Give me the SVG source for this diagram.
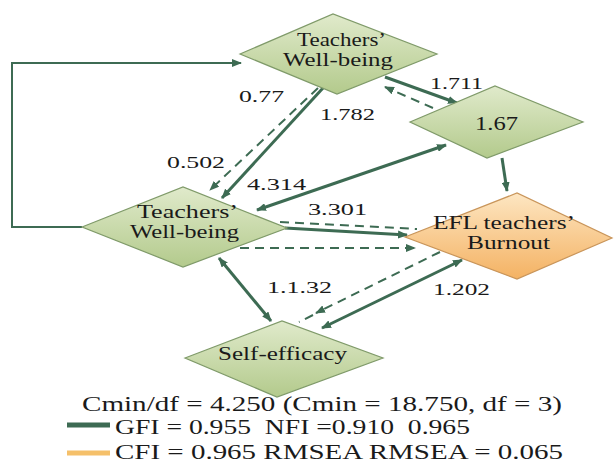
<svg xmlns="http://www.w3.org/2000/svg" width="616" height="466" viewBox="0 0 616 466">
<defs>
<linearGradient id="gG" x1="0" y1="0" x2="0" y2="1">
<stop offset="0" stop-color="#e0eacb"/><stop offset="1" stop-color="#b3ca8c"/>
</linearGradient>
<linearGradient id="gO" x1="0" y1="0" x2="0" y2="1">
<stop offset="0" stop-color="#fde6c2"/><stop offset="1" stop-color="#f4b263"/>
</linearGradient>
<marker id="ah" viewBox="0 0 10 8" refX="9" refY="4" markerWidth="10" markerHeight="8" markerUnits="userSpaceOnUse" orient="auto-start-reverse">
<path d="M0,0 L10,4 L0,8 z" fill="#3d6b53"/>
</marker>
<style>
.g{fill:url(#gG);stroke:#7f9a69;stroke-width:1.2}
.o{fill:url(#gO);stroke:#c9955a;stroke-width:1.2}
text{font-family:"Liberation Serif","DejaVu Serif",serif;fill:#1a1a1a}
.t{font-size:18px}
.n{font-size:17px}
.s{fill:none;stroke:#3d6b53;stroke-width:3}
.d{fill:none;stroke:#3d6b53;stroke-width:2;stroke-dasharray:9 6}
.l{fill:none;stroke:#3d6b53;stroke-width:2}
</style>
</defs>
<rect width="616" height="466" fill="#ffffff"/>
<g id="connectors">
<polyline class="l" points="82,227 12,227 12,63 241,63" marker-end="url(#ah)"/>
<line class="d" x1="318" y1="88" x2="210" y2="190" marker-end="url(#ah)"/>
<line class="s" x1="323" y1="88" x2="222" y2="198" marker-end="url(#ah)"/>
<line class="s" x1="385" y1="77" x2="457" y2="103" marker-end="url(#ah)"/>
<line class="d" x1="433" y1="108" x2="385" y2="87" marker-end="url(#ah)"/>
<line class="s" x1="502" y1="158" x2="507" y2="191" marker-end="url(#ah)"/>
<line class="s" x1="257" y1="210" x2="446" y2="145" marker-start="url(#ah)" marker-end="url(#ah)"/>
<line class="d" x1="280" y1="222" x2="417" y2="229"/>
<line class="s" x1="285" y1="228" x2="407" y2="235" marker-end="url(#ah)"/>
<line class="d" x1="240" y1="248" x2="415" y2="248" marker-end="url(#ah)"/>
<line class="s" x1="219" y1="258" x2="271" y2="321" marker-start="url(#ah)" marker-end="url(#ah)"/>
<line class="d" x1="440" y1="252" x2="316" y2="313" marker-end="url(#ah)"/>
<line class="d" x1="313" y1="315" x2="299" y2="322"/>
<line class="s" x1="322" y1="328" x2="462" y2="260" marker-start="url(#ah)" marker-end="url(#ah)"/>
</g>
<g id="node-top-wellbeing">
<polygon class="g" points="240,54 333,14 437,54 337,94"/>
<text class="t" x="297" y="46" textLength="89" lengthAdjust="spacingAndGlyphs">Teachers’</text>
<text class="t" x="283" y="66" textLength="110" lengthAdjust="spacingAndGlyphs">Well-being</text>
</g>
<g id="node-167">
<polygon class="g" points="410,122 495,86 583,122 487,158"/>
<text class="t" x="475" y="130" textLength="43" lengthAdjust="spacingAndGlyphs">1.67</text>
</g>
<g id="node-left-wellbeing">
<polygon class="g" points="82,227 183,187 287,228 183,267"/>
<text class="t" x="137" y="218" textLength="101" lengthAdjust="spacingAndGlyphs">Teachers’</text>
<text class="t" x="130" y="238" textLength="109" lengthAdjust="spacingAndGlyphs">Well-being</text>
</g>
<g id="node-burnout">
<polygon class="o" points="405,237 517,193 612,238 517,279"/>
<text class="t" x="433" y="229" textLength="142" lengthAdjust="spacingAndGlyphs">EFL teachers’</text>
<text class="t" x="467" y="249" textLength="83" lengthAdjust="spacingAndGlyphs">Burnout</text>
</g>
<g id="node-selfefficacy">
<polygon class="g" points="185,358 282,321 383,358 277,397"/>
<text class="t" x="218" y="360" textLength="129" lengthAdjust="spacingAndGlyphs">Self-efficacy</text>
</g>
<g id="labels">
<text class="n" x="239" y="102" textLength="45" lengthAdjust="spacingAndGlyphs">0.77</text>
<text class="n" x="320" y="120" textLength="55" lengthAdjust="spacingAndGlyphs">1.782</text>
<text class="n" x="430" y="89" textLength="53" lengthAdjust="spacingAndGlyphs">1.711</text>
<text class="n" x="167" y="168" textLength="58" lengthAdjust="spacingAndGlyphs">0.502</text>
<text class="n" x="247" y="190" textLength="59" lengthAdjust="spacingAndGlyphs">4.314</text>
<text class="n" x="308" y="215" textLength="59" lengthAdjust="spacingAndGlyphs">3.301</text>
<text class="n" x="267" y="293" textLength="65" lengthAdjust="spacingAndGlyphs">1.1.32</text>
<text class="n" x="433" y="295" textLength="57" lengthAdjust="spacingAndGlyphs">1.202</text>
</g>
<g id="legend">
<text class="t" style="font-size:20px" x="82" y="411" textLength="480" lengthAdjust="spacingAndGlyphs">Cmin/df = 4.250 (Cmin = 18.750, df = 3)</text>
<line x1="67" y1="425" x2="110" y2="425" stroke="#3d6b53" stroke-width="5"/>
<text class="t" style="font-size:20px" x="115" y="434" textLength="355" lengthAdjust="spacingAndGlyphs" xml:space="preserve">GFI = 0.955  NFI =0.910  0.965</text>
<line x1="67" y1="453" x2="110" y2="453" stroke="#f5c06a" stroke-width="5"/>
<text class="t" style="font-size:20px" x="115" y="459" textLength="448" lengthAdjust="spacingAndGlyphs">CFI = 0.965 RMSEA RMSEA = 0.065</text>
</g>
</svg>
